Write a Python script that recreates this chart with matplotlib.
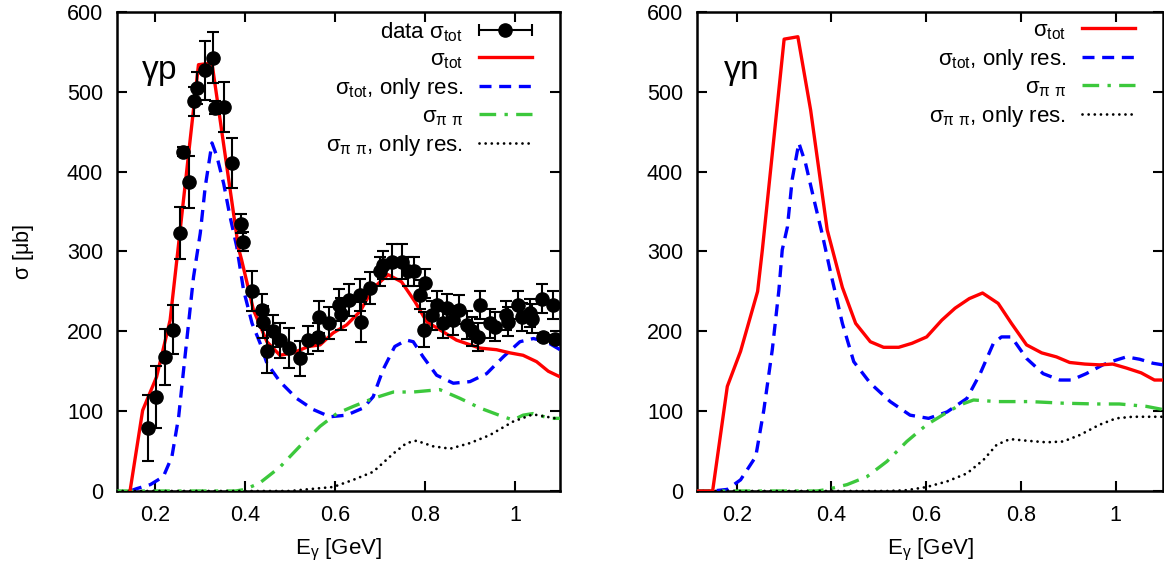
import numpy as np
import matplotlib
matplotlib.use('Agg')
import matplotlib.pyplot as plt
from matplotlib.container import ErrorbarContainer
from matplotlib.legend_handler import HandlerErrorbar

plt.rcParams['font.family'] = ['Liberation Sans', 'DejaVu Sans']
plt.rcParams['mathtext.fontset'] = 'custom'
plt.rcParams['mathtext.rm'] = 'Liberation Sans'
plt.rcParams['mathtext.it'] = 'Liberation Sans'
plt.rcParams['mathtext.default'] = 'regular'

# ---- gamma p : measured total cross section ----
data_E = [0.186, 0.203, 0.222, 0.240, 0.256, 0.262, 0.275, 0.286, 0.293, 0.312,
          0.330, 0.334, 0.354, 0.371, 0.391, 0.396, 0.416, 0.437, 0.440, 0.450,
          0.463, 0.478, 0.498, 0.522, 0.541, 0.563, 0.565, 0.587, 0.609, 0.613,
          0.632, 0.656, 0.659, 0.678, 0.700, 0.706, 0.726, 0.750, 0.763, 0.776,
          0.789, 0.797, 0.800, 0.815, 0.826, 0.841, 0.850, 0.863, 0.876, 0.893,
          0.904, 0.918, 0.922, 0.944, 0.956, 0.981, 0.985, 1.006, 1.015, 1.033,
          1.037, 1.061, 1.063, 1.085, 1.089]
data_sig = [79, 118, 168, 202, 323, 425, 387, 488, 505, 527,
            543, 480, 481, 411, 335, 312, 250, 227, 212, 175,
            200, 189, 179, 166, 189, 193, 218, 210, 233, 222,
            239, 246, 212, 254, 275, 283, 287, 287, 275, 275,
            246, 202, 260, 220, 233, 210, 229, 214, 227, 208,
            200, 193, 233, 210, 206, 220, 212, 233, 218, 223,
            216, 241, 193, 233, 191]
data_err = [41, 39, 35, 31, 33, 6, 33, 18, 20, 37,
            32, 8, 31, 31, 12, 12, 25, 20, 20, 27,
            20, 22, 25, 22, 18, 18, 20, 20, 20, 20,
            20, 20, 25, 20, 18, 18, 22, 22, 18, 18,
            18, 22, 18, 18, 18, 18, 18, 18, 18, 18,
            18, 18, 18, 18, 18, 18, 18, 18, 18, 18,
            18, 18, 5, 18, 5]

# ---- gamma p : model curves ----
p_tot_E = [0.145, 0.173, 0.204, 0.234, 0.253, 0.297, 0.327, 0.386, 0.393, 0.419,
           0.449, 0.478, 0.507, 0.541, 0.567, 0.596, 0.626, 0.656, 0.685, 0.718,
           0.748, 0.778, 0.804, 0.833, 0.870, 0.922, 0.959, 0.989, 1.018, 1.048,
           1.074, 1.100]
p_tot = [0, 101, 143, 214, 310, 534, 536, 304, 289, 227,
         187, 170, 173, 181, 183, 198, 208, 225, 254, 271,
         262, 237, 212, 202, 189, 179, 177, 173, 170, 162,
         150, 143]

p_res_E = [0.145, 0.160, 0.190, 0.219, 0.238, 0.253, 0.264, 0.275, 0.286, 0.301,
           0.312, 0.327, 0.338, 0.353, 0.367, 0.382, 0.397, 0.416, 0.434, 0.449,
           0.478, 0.515, 0.552, 0.589, 0.626, 0.663, 0.685, 0.707, 0.733, 0.759,
           0.774, 0.796, 0.826, 0.863, 0.900, 0.937, 0.974, 1.011, 1.041, 1.070,
           1.100]
p_res = [0, 3, 8, 18, 43, 93, 152, 210, 268, 323,
         381, 436, 419, 385, 344, 306, 252, 210, 185, 160,
         137, 116, 102, 93, 95, 104, 118, 152, 181, 189,
         187, 168, 145, 135, 137, 147, 168, 187, 191, 187,
         177]

p_pipi_E = [0.115, 0.380, 0.400, 0.433, 0.478, 0.522, 0.567, 0.604, 0.641, 0.685,
            0.730, 0.774, 0.833, 0.878, 0.922, 0.974, 0.996, 1.018, 1.040, 1.078,
            1.100]
p_pipi = [0, 0, 2, 10, 30, 56, 81, 97, 106, 116,
          124, 124, 127, 116, 104, 93, 89, 95, 97, 91,
          91]

p_pipi_res_E = [0.115, 0.500, 0.537, 0.596, 0.641, 0.685, 0.730, 0.759, 0.781, 0.818,
                0.856, 0.900, 0.944, 0.996, 1.040, 1.070, 1.100]
p_pipi_res = [0, 0, 2, 5, 14, 24, 47, 60, 63, 56,
              53, 60, 70, 87, 96, 93, 90]

# ---- gamma n : model curves ----
n_tot_E = [0.116, 0.149, 0.180, 0.208, 0.244, 0.254, 0.300, 0.329, 0.356, 0.391,
           0.423, 0.451, 0.482, 0.510, 0.542, 0.570, 0.601, 0.633, 0.661, 0.691,
           0.719, 0.752, 0.780, 0.812, 0.844, 0.875, 0.903, 0.935, 0.966, 0.994,
           1.023, 1.054, 1.082, 1.100]
n_tot = [0, 0, 131, 175, 250, 302, 566, 569, 477, 327,
         255, 210, 187, 180, 180, 185, 193, 214, 229, 241,
         248, 235, 210, 183, 173, 168, 161, 159, 158, 159,
         154, 148, 139, 139]

n_res_E = [0.116, 0.149, 0.180, 0.208, 0.240, 0.257, 0.275, 0.289, 0.296, 0.307,
           0.317, 0.331, 0.345, 0.363, 0.380, 0.398, 0.423, 0.447, 0.482, 0.524,
           0.566, 0.605, 0.644, 0.686, 0.714, 0.742, 0.759, 0.780, 0.812, 0.847,
           0.882, 0.907, 0.938, 0.973, 1.001, 1.023, 1.051, 1.079, 1.100]
n_res = [0, 0, 2, 14, 43, 101, 177, 252, 302, 331,
         390, 436, 411, 365, 323, 274, 210, 162, 135, 112,
         95, 91, 99, 116, 147, 185, 193, 193, 166, 147,
         139, 139, 147, 158, 164, 168, 165, 160, 158]

n_pipi_E = [0.116, 0.370, 0.391, 0.433, 0.475, 0.517, 0.559, 0.601, 0.637, 0.672,
            0.700, 0.749, 0.819, 0.889, 0.959, 1.008, 1.065, 1.100]
n_pipi = [0, 0, 2, 8, 18, 37, 62, 83, 96, 108,
          114, 112, 112, 110, 109, 109, 106, 102]

n_pipi_res_E = [0.116, 0.520, 0.559, 0.601, 0.644, 0.686, 0.721, 0.749, 0.777, 0.812,
                0.854, 0.889, 0.924, 0.966, 1.001, 1.036, 1.100]
n_pipi_res = [0, 0, 1, 5, 12, 22, 39, 58, 65, 63,
              61, 62, 70, 83, 91, 93, 93]

lab_data = r'data $\sigma_{tot}$'
lab_tot = r'$\sigma_{tot}$'
lab_res = r'$\sigma_{tot}$, only res.'
lab_pipi = r'$\sigma_{\pi\ \pi}$'
lab_pipi_res = r'$\sigma_{\pi\ \pi}$, only res.'

red = '#ff0000'
blue = '#0000ff'
green = '#3cc83c'

fig = plt.figure(figsize=(11.64, 5.74), dpi=100)
ax1 = fig.add_axes([0.1005, 0.1446, 0.3806, 0.8345])
ax2 = fig.add_axes([0.5988, 0.1446, 0.4003, 0.8345])


def curves(ax, tE, t, rE, r, pE, p, prE, pr):
    ax.plot(tE, t, color=red, lw=2.4, label=lab_tot, zorder=4)
    ax.plot(rE, r, color=blue, lw=2.4, ls=(0, (3.6, 2.3)), label=lab_res, zorder=3)
    ax.plot(pE, p, color=green, lw=2.4, ls=(0, (5, 2.5, 1, 2.5)), label=lab_pipi, zorder=3)
    ax.plot(prE, pr, color='black', lw=2.0, ls=(0, (0.01, 2.2)), dash_capstyle='round',
            label=lab_pipi_res, zorder=3)


# left panel: gamma p
ax1.errorbar(data_E, data_sig, yerr=data_err, fmt='o', color='black', ms=9.5,
             elinewidth=1.5, capsize=4, capthick=1.5, zorder=5)
proxy = ax1.errorbar([np.nan], [np.nan], xerr=[0.01], fmt='o', color='black', ms=9.5,
                     elinewidth=1.5, capsize=4, capthick=1.5, label=lab_data)
curves(ax1, p_tot_E, p_tot, p_res_E, p_res, p_pipi_E, p_pipi, p_pipi_res_E, p_pipi_res)

# right panel: gamma n
curves(ax2, n_tot_E, n_tot, n_res_E, n_res, n_pipi_E, n_pipi, n_pipi_res_E, n_pipi_res)

for ax, name, width_px in [(ax1, r'$\gamma$p', 443), (ax2, r'$\gamma$n', 466)]:
    ax.set_xlim(0.116, 1.1)
    ax.set_ylim(0, 600)
    ax.set_xticks([0.2, 0.4, 0.6, 0.8, 1.0])
    ax.set_xticklabels(['0.2', '0.4', '0.6', '0.8', '1'])
    ax.set_yticks(range(0, 601, 100))
    ax.tick_params(direction='in', length=7, width=1.5, top=True, right=True,
                   labelsize=15.5, pad=10)
    for s in ax.spines.values():
        s.set_linewidth(1.8)
    ax.set_xlabel(r'E$_\gamma$ [GeV]', fontsize=16, labelpad=8)
    ax.text(0.055, 0.873, name, transform=ax.transAxes, fontsize=24, va='center')
    handles, labels = ax.get_legend_handles_labels()
    if lab_data in labels:
        i = labels.index(lab_data)
        handles = [handles[i]] + handles[:i] + handles[i + 1:]
        labels = [labels[i]] + labels[:i] + labels[i + 1:]
    ax.legend(handles, labels, loc='upper right', markerfirst=False, frameon=False,
              fontsize=16, handlelength=2.4, handletextpad=0.7, labelspacing=0.24,
              borderpad=0, borderaxespad=0,
              bbox_to_anchor=(1 - 28 / width_px, 1 - 8 / 479),
              handler_map={ErrorbarContainer: HandlerErrorbar(xerr_size=1.2)})

ax1.set_ylabel(r'$\sigma$ [$\mu$b]', fontsize=15.5, labelpad=22)

fig.savefig('out.png', dpi=100)
